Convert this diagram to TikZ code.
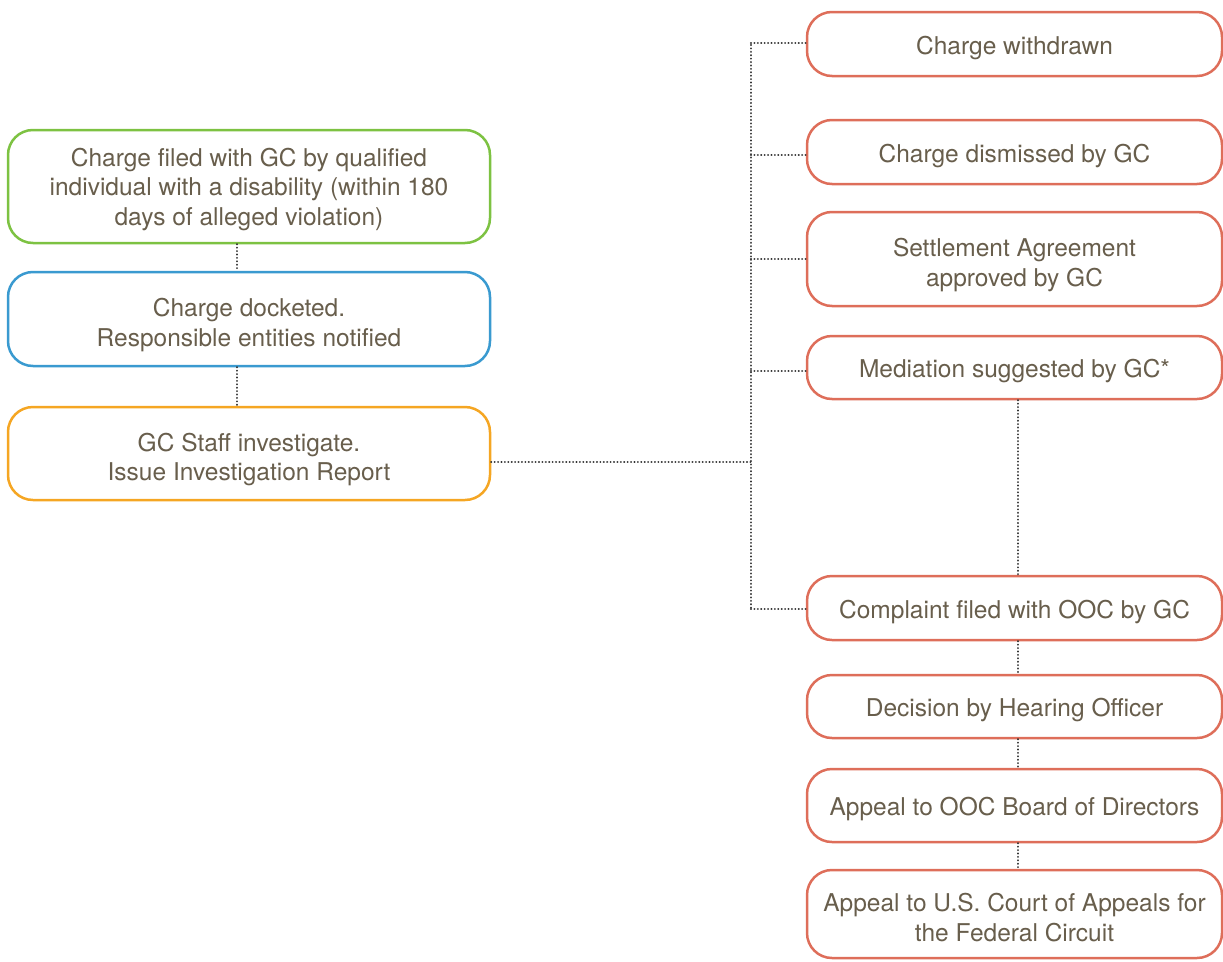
\documentclass[tikz,border=0pt]{standalone}
\usepackage{fontspec}
\setmainfont{TeX Gyre Heros}
\definecolor{txt}{HTML}{685E4C}
\definecolor{cgreen}{HTML}{7DC242}
\definecolor{cblue}{HTML}{3A9AD0}
\definecolor{corange}{HTML}{F5A623}
\definecolor{cred}{HTML}{DE6E5A}
\definecolor{conn}{HTML}{333333}
\tikzset{
  box/.style={draw, line width=2.5pt, rounded corners=25pt, align=center, text=txt,
    font=\fontsize{24.5}{29.5}\selectfont, inner sep=0pt},
  oneline/.style={text height=26pt},
  twolines/.style={text height=54pt, text depth=0pt},
  threelines/.style={text height=77pt, text depth=0pt},
  lbox/.style={box, minimum width=482pt},
  rbox/.style={box, draw=cred, minimum width=415pt},
  link/.style={draw=conn, line width=2.2pt, dash pattern=on 0.01pt off 3.4pt, line cap=round}
}
\begin{document}
\begin{tikzpicture}[x=1pt,y=-1pt]
\useasboundingbox (0,0) rectangle (1223,961);
% left column
\node[lbox, threelines, draw=cgreen, minimum height=113pt] (g) at (249,186.5) {Charge filed with GC by qualified\\individual with a disability (within 180\\days of alleged violation)};
\node[lbox, twolines, draw=cblue, minimum height=94pt] (b) at (249,319) {Charge docketed.\\Responsible entities notified};
\node[lbox, twolines, draw=corange, minimum height=93pt] (o) at (249,453.5) {GC Staff investigate.\\Issue Investigation Report};
% right column
\node[rbox, oneline, minimum height=64pt] (r1) at (1014.5,44) {Charge withdrawn};
\node[rbox, oneline, minimum height=64pt] (r2) at (1014.5,152) {Charge dismissed by GC};
\node[rbox, twolines, minimum height=94pt] (r3) at (1014.5,259) {Settlement Agreement\\approved by GC};
\node[rbox, oneline, minimum height=63pt] (r4) at (1014.5,367.5) {Mediation suggested by GC*};
\node[rbox, oneline, minimum height=64pt] (r5) at (1014.5,608) {Complaint filed with OOC by GC};
\node[rbox, oneline, minimum height=63pt] (r6) at (1014.5,706.5) {Decision by Hearing Officer};
\node[rbox, oneline, minimum height=73pt] (r7) at (1014.5,805.5) {Appeal to OOC Board of Directors};
\node[rbox, twolines, minimum height=88pt] (r8) at (1014.5,914) {Appeal to U.S. Court of Appeals for\\the Federal Circuit};
% bus
\coordinate (bus) at (751,0);
% left vertical links
\draw[link] ([xshift=-12pt]g.south) -- ([xshift=-12pt]b.north);
\draw[link] ([xshift=-12pt]b.south) -- ([xshift=-12pt]o.north);
% orange to bus
\draw[link] ([yshift=-8.5pt]o.east) -- ([yshift=-8.5pt]o.east -| bus);
% bus vertical
\draw[link] ([yshift=-1pt]r1.west -| bus) -- ([yshift=-1pt]r5.west -| bus);
% bus to right boxes
\draw[link] ([yshift=1pt]r1.west -| bus) -- ([yshift=1pt]r1.west);
\draw[link] ([yshift=-3pt]r2.west -| bus) -- ([yshift=-3pt]r2.west);
\draw[link] (r3.west -| bus) -- (r3.west);
\draw[link] ([yshift=-3.5pt]r4.west -| bus) -- ([yshift=-3.5pt]r4.west);
\draw[link] ([yshift=-1pt]r5.west -| bus) -- ([yshift=-1pt]r5.west);
% right vertical links
\draw[link] ([xshift=3.5pt]r4.south) -- ([xshift=3.5pt]r5.north);
\draw[link] ([xshift=3.5pt]r5.south) -- ([xshift=3.5pt]r6.north);
\draw[link] ([xshift=3.5pt]r6.south) -- ([xshift=3.5pt]r7.north);
\draw[link] ([xshift=3.5pt]r7.south) -- ([xshift=3.5pt]r8.north);
\end{tikzpicture}
\end{document}
